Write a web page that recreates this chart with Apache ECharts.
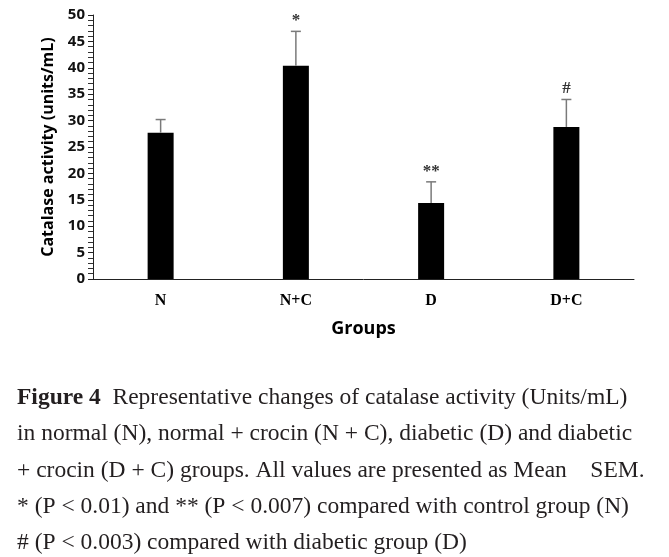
<!DOCTYPE html>
<html>
<head>
<meta charset="utf-8">
<script src="https://cdn.jsdelivr.net/npm/echarts@6/dist/echarts.min.js"></script>
<style>
html,body{margin:0;padding:0;background:#fff;}
#chart{width:669px;height:557px;}
</style>
</head>
<body>
<div id="chart"></div>
<script>
var categories = ['N', 'N+C', 'D', 'D+C'];
var means = [27.7, 40.4, 14.4, 28.8];
var sems = [2.5, 6.5, 4.0, 5.2];
var marks = ['', '*', '**', '#'];
var yTicks = { min: 0, max: 50, interval: 5 };
var captionLines = [
  [{t: 'Figure 4', b: true}, {t: '  Representative changes of catalase activity (Units/mL)'}],
  [{t: 'in normal (N), normal + crocin (N + C), diabetic (D) and diabetic'}],
  [{t: '+ crocin (D + C) groups. All values are presented as Mean    SEM.'}],
  [{t: '* (P < 0.01) and ** (P < 0.007) compared with control group (N)'}],
  [{t: '# (P < 0.003) compared with diabetic group (D)'}]
];

var chart = echarts.init(document.getElementById('chart'));

var errData = categories.map(function (c, i) { return [i, means[i], sems[i]]; });

var graphics = captionLines.map(function (line, k) {
  var text = line.map(function (s) { return s.b ? '{b|' + s.t + '}' : '{n|' + s.t + '}'; }).join('');
  return {
    type: 'text',
    left: 17,
    top: 386 + k * 36.2,
    style: {
      text: text,
      rich: {
        b: { fontFamily: 'Liberation Serif', fontWeight: 'bold', fontSize: 23.5, fill: '#231f20' },
        n: { fontFamily: 'Liberation Serif', fontSize: 23.5, fill: '#231f20' }
      }
    }
  };
});

chart.setOption({
  animation: false,
  backgroundColor: '#fff',
  grid: { left: 93, right: 35, top: 15, bottom: 278 },
  xAxis: {
    type: 'category',
    data: categories,
    name: 'Groups',
    nameLocation: 'middle',
    nameGap: 41,
    nameTextStyle: { fontFamily: 'Open Sans', fontWeight: 'bold', fontSize: 18, color: '#000' },
    axisLine: { show: true, lineStyle: { color: '#222', width: 1 } },
    axisTick: { show: false },
    axisLabel: { margin: 14, fontFamily: 'Liberation Serif', fontWeight: 'bold', fontSize: 16, color: '#000' }
  },
  yAxis: {
    type: 'value',
    min: yTicks.min, max: yTicks.max, interval: yTicks.interval,
    name: 'Catalase activity (units/mL)',
    nameLocation: 'middle',
    nameGap: 37,
    nameTextStyle: { fontFamily: 'Open Sans', fontWeight: 'bold', fontSize: 16, color: '#000' },
    axisLine: { show: true, lineStyle: { color: '#222', width: 1 } },
    axisTick: { show: true, length: 5, lineStyle: { color: '#222' } },
    minorTick: { show: true, splitNumber: 5, length: 5, lineStyle: { color: '#333' } },
    splitLine: { show: false },
    axisLabel: { margin: 8, fontFamily: 'Open Sans', fontWeight: 'bold', fontSize: 15, color: '#111' }
  },
  series: [
    {
      type: 'bar',
      data: means,
      barWidth: 26,
      itemStyle: { color: '#000' }
    },
    {
      type: 'custom',
      data: errData,
      z: 5,
      renderItem: function (params, api) {
        var i = api.value(0);
        var m = api.value(1);
        var s = api.value(2);
        var mark = marks[i];
        var p0 = api.coord([i, m]);
        var p1 = api.coord([i, m + s]);
        var cw = 5;
        return {
          type: 'group',
          children: [
            { type: 'line', shape: { x1: p0[0], y1: p0[1], x2: p1[0], y2: p1[1] }, style: { stroke: '#7a7a7a', lineWidth: 1.5 } },
            { type: 'line', shape: { x1: p1[0] - cw, y1: p1[1], x2: p1[0] + cw, y2: p1[1] }, style: { stroke: '#7a7a7a', lineWidth: 1.5 } },
            { type: 'text', x: p1[0], y: p1[1] - 2, style: { text: mark, fontFamily: 'Liberation Serif', fontWeight: 'bold', fontSize: 17, fill: '#333', align: 'center', verticalAlign: 'bottom' } }
          ]
        };
      }
    }
  ],
  graphic: graphics
});
</script>
</body>
</html>
